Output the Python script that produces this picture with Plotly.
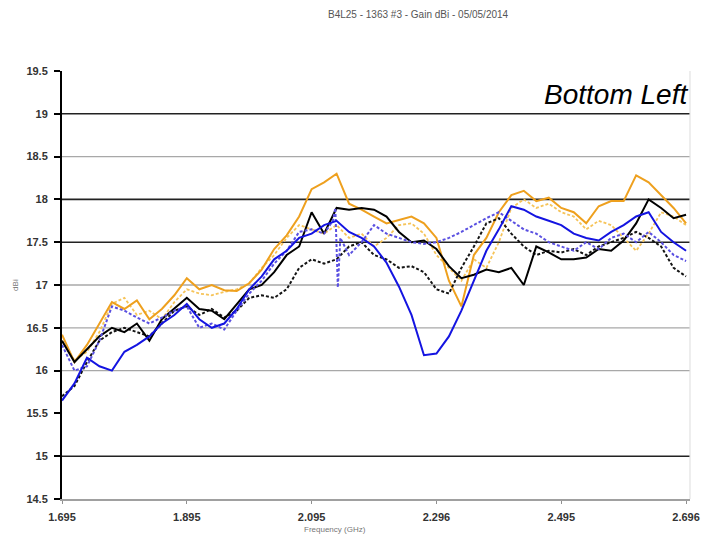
import plotly.graph_objects as go

# Frequency grid (GHz) shared by the gain traces
freq = [1.695, 1.715, 1.735, 1.755, 1.775, 1.795, 1.815, 1.835, 1.855, 1.875,
        1.895, 1.915, 1.935, 1.955, 1.975, 1.995, 2.015, 2.035, 2.055, 2.075,
        2.095, 2.115, 2.135, 2.155, 2.175, 2.195, 2.215, 2.235, 2.255, 2.275,
        2.295, 2.315, 2.335, 2.355, 2.375, 2.395, 2.415, 2.435, 2.455, 2.475,
        2.495, 2.515, 2.535, 2.555, 2.575, 2.595, 2.615, 2.635, 2.655, 2.675,
        2.695]

# Gain (dBi) per scan
gain_orange = [16.42, 16.10, 16.30, 16.55, 16.80, 16.72, 16.82, 16.60, 16.72, 16.88,
               17.08, 16.95, 17.00, 16.94, 16.93, 17.02, 17.18, 17.42, 17.58, 17.80,
               18.12, 18.20, 18.30, 17.95, 17.88, 17.80, 17.72, 17.76, 17.80, 17.72,
               17.55, 17.05, 16.75, 17.35, 17.55, 17.85, 18.05, 18.10, 17.98, 18.02,
               17.90, 17.85, 17.72, 17.92, 17.98, 17.98, 18.28, 18.20, 18.05, 17.90,
               17.72]
gain_orange_dot = [16.35, 16.12, 16.22, 16.45, 16.78, 16.85, 16.65, 16.70, 16.60, 16.80,
                   16.95, 16.90, 16.88, 16.92, 16.95, 17.02, 17.20, 17.35, 17.55, 17.70,
                   17.65, 17.60, 17.70, 17.55, 17.60, 17.45, 17.55, 17.70, 17.72, 17.60,
                   17.35, 17.20, 17.05, 17.30, 17.20, 17.50, 17.90, 18.00, 17.90, 17.95,
                   17.85, 17.80, 17.65, 17.75, 17.70, 17.55, 17.40, 17.60, 17.85, 17.80,
                   17.70]
gain_black = [16.35, 16.10, 16.25, 16.40, 16.50, 16.45, 16.55, 16.35, 16.60, 16.72,
              16.85, 16.72, 16.70, 16.60, 16.78, 16.95, 17.00, 17.15, 17.35, 17.45,
              17.85, 17.60, 17.90, 17.88, 17.90, 17.88, 17.80, 17.62, 17.50, 17.52,
              17.42, 17.22, 17.08, 17.12, 17.18, 17.15, 17.20, 17.00, 17.45, 17.38,
              17.30, 17.30, 17.32, 17.42, 17.40, 17.52, 17.72, 18.00, 17.90, 17.78,
              17.82]
gain_black_dot = [15.70, 15.82, 16.10, 16.35, 16.45, 16.50, 16.45, 16.40, 16.55, 16.70,
                  16.75, 16.65, 16.72, 16.62, 16.70, 16.85, 16.88, 16.85, 16.95, 17.20,
                  17.30, 17.25, 17.30, 17.45, 17.50, 17.35, 17.30, 17.20, 17.22, 17.15,
                  16.95, 16.90, 17.20, 17.45, 17.72, 17.78, 17.60, 17.45, 17.35, 17.40,
                  17.38, 17.42, 17.35, 17.45, 17.50, 17.55, 17.62, 17.55, 17.45, 17.20,
                  17.10]
gain_blue = [15.65, 15.85, 16.15, 16.05, 16.00, 16.22, 16.30, 16.40, 16.55, 16.65,
             16.78, 16.60, 16.50, 16.55, 16.72, 16.95, 17.10, 17.30, 17.40, 17.55,
             17.60, 17.70, 17.75, 17.62, 17.55, 17.45, 17.26, 16.98, 16.65, 16.18,
             16.20, 16.40, 16.70, 17.05, 17.40, 17.65, 17.92, 17.88, 17.80, 17.75,
             17.70, 17.60, 17.55, 17.52, 17.62, 17.70, 17.80, 17.85, 17.62, 17.50,
             17.40]
# blue dotted scan: grid without 2.135, plus a narrow glitch around 2.135
gain_blue_dot = [16.30, 16.00, 16.05, 16.35, 16.75, 16.70, 16.62, 16.55, 16.62, 16.70,
                 16.75, 16.50, 16.55, 16.48, 16.70, 16.90, 17.05, 17.25, 17.40, 17.62,
                 17.65, 17.60, 17.35, 17.50, 17.70, 17.60, 17.55, 17.50, 17.48,
                 17.50, 17.55, 17.62, 17.70, 17.78, 17.85, 17.75, 17.65, 17.60, 17.50,
                 17.45, 17.40, 17.50, 17.42, 17.55, 17.60, 17.50, 17.62, 17.50, 17.35,
                 17.28]
glitch_freq = [2.129, 2.133, 2.137, 2.141]
glitch_gain = [17.75, 17.90, 16.97, 17.55]

freq_blue_dot = freq[:22] + glitch_freq + freq[23:]
gain_blue_dot_full = gain_blue_dot[:22] + glitch_gain + gain_blue_dot[22:]

# Axis ticks
x_tickvals = [1.695, 1.895, 2.095, 2.295, 2.495, 2.695]
x_ticktext = ["1.695", "1.895", "2.095", "2.296", "2.495", "2.696"]

# Horizontal reference lines: heavy and light
heavy_levels = [19, 18, 17.5, 15]
light_levels = [18.5, 17, 16.5, 16]

series = [
    ("Scan 1", freq, gain_orange_dot, "rgb(246,196,90)", "3px,2px", 1.8),
    ("Scan 2", freq, gain_orange, "rgb(238,160,30)", "solid", 2.0),
    ("Scan 3", freq, gain_black_dot, "rgb(20,20,20)", "3px,2px", 2.0),
    ("Scan 4", freq, gain_black, "rgb(0,0,0)", "solid", 2.0),
    ("Scan 5", freq_blue_dot, gain_blue_dot_full, "rgb(90,80,225)", "3px,2px", 2.0),
    ("Scan 6", freq, gain_blue, "rgb(20,20,225)", "solid", 2.0),
]

fig = go.Figure()
for name, xs, ys, color, dash, width in series:
    fig.add_trace(go.Scatter(x=xs, y=ys, mode="lines", name=name,
                             line=dict(color=color, width=width, dash=dash)))

shapes = []
for lv in heavy_levels:
    shapes.append(dict(type="line", xref="paper", yref="y", x0=0, x1=1, y0=lv, y1=lv,
                       line=dict(color="#222222", width=1.6), layer="below"))
for lv in light_levels:
    shapes.append(dict(type="line", xref="paper", yref="y", x0=0, x1=1, y0=lv, y1=lv,
                       line=dict(color="#a8a8a8", width=1.3), layer="below"))
# faint right border of the plot area
shapes.append(dict(type="line", xref="paper", yref="paper", x0=1, x1=1, y0=0, y1=1,
                   line=dict(color="#e2e2e2", width=1.2), layer="below"))

annotations = [
    dict(text="B4L25 - 1363 #3 - Gain dBi - 05/05/2014", xref="paper", yref="paper",
         x=0.567, y=1.133, showarrow=False, xanchor="center", yanchor="middle",
         font=dict(family="Arial", size=10, color="#555555")),
    dict(text="<i>Bottom Left</i>", xref="paper", yref="paper", x=1.0, y=0.945,
         showarrow=False, xanchor="right", yanchor="middle",
         font=dict(family="Arial", size=28, color="#000000")),
    dict(text="dBi", xref="paper", yref="paper", x=-0.075, y=0.5, textangle=-90,
         showarrow=False, xanchor="center", yanchor="middle",
         font=dict(family="Arial", size=8, color="#777777")),
    dict(text="Frequency (GHz)", xref="paper", yref="paper", x=0.435, y=-0.072,
         showarrow=False, xanchor="center", yanchor="middle",
         font=dict(family="Arial", size=8, color="#777777")),
]

fig.update_layout(
    width=712, height=541,
    margin=dict(l=62, r=15, t=71, b=42),
    paper_bgcolor="white", plot_bgcolor="white",
    showlegend=False,
    shapes=shapes,
    annotations=annotations,
    xaxis=dict(range=[1.695, 2.7013], tickvals=x_tickvals, ticktext=x_ticktext,
               showgrid=False, zeroline=False, showline=True, linecolor="#a0a0a0",
               linewidth=1.5, ticks="outside", ticklen=3, tickcolor="#909090",
               ticklabelstandoff=4,
               tickfont=dict(family="Arial", size=11, color="#333333", weight="bold")),
    yaxis=dict(range=[14.5, 19.5], dtick=0.5, tick0=14.5, showgrid=False,
               zeroline=False, showline=True, linecolor="#000000", linewidth=2,
               ticks="outside", ticklen=6, tickcolor="#000000", tickwidth=1.5,
               ticklabelstandoff=4,
               tickfont=dict(family="Arial", size=11, color="#333333", weight="bold")),
)

fig.write_html("out.html")
